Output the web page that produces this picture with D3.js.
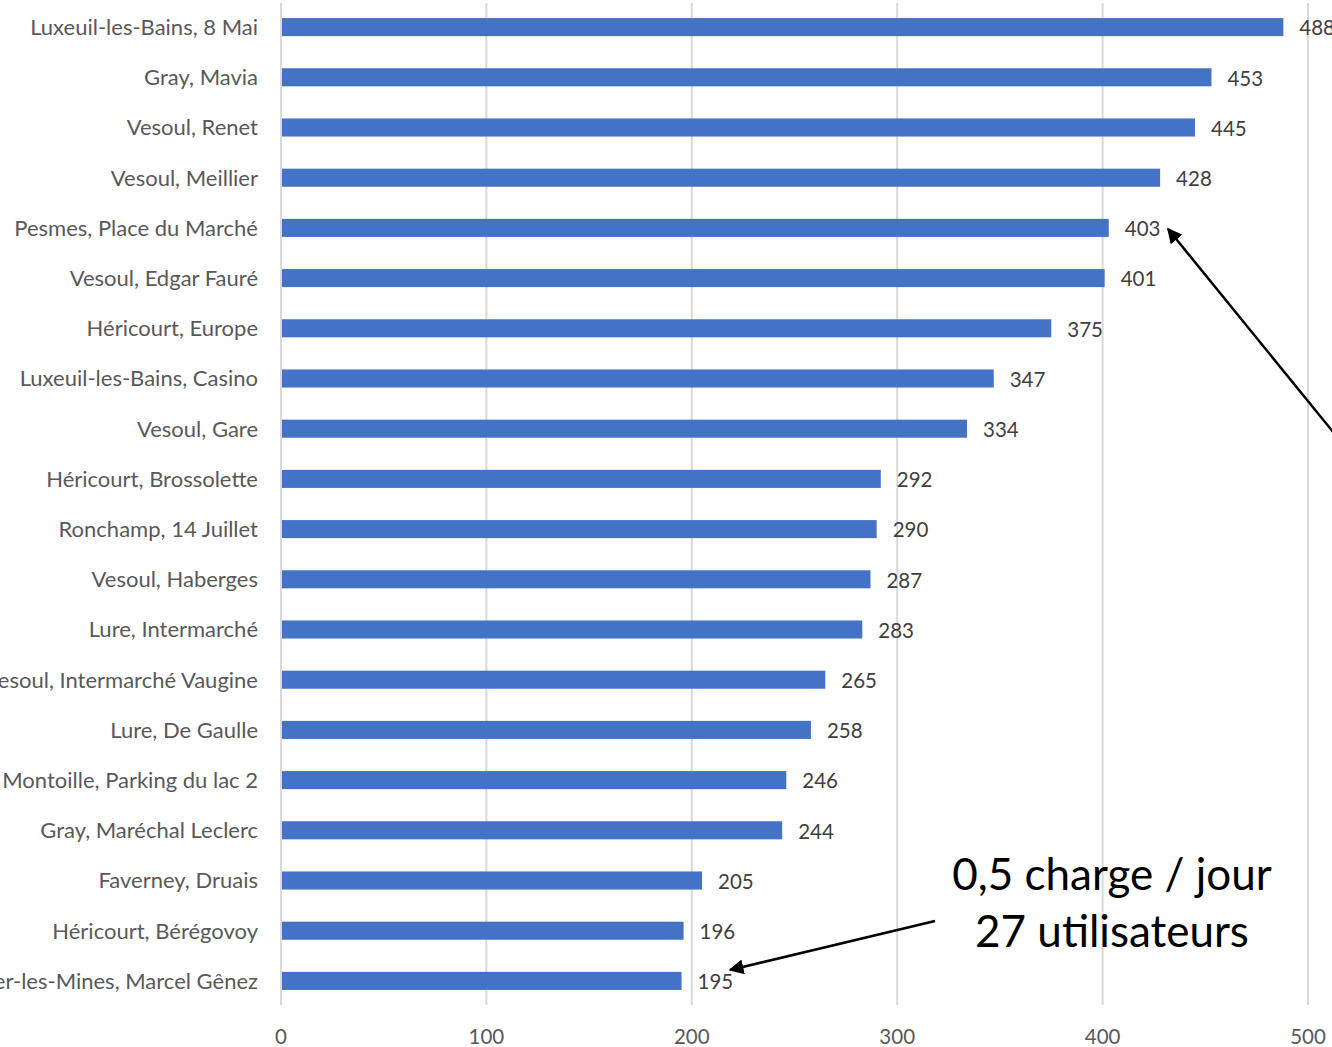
<!DOCTYPE html>
<html><head><meta charset="utf-8">
<script src="https://cdn.jsdelivr.net/npm/d3@7"></script>
<style>body{margin:0;background:#fff;overflow:hidden}svg{display:block}</style>
</head><body>
<svg id="c" width="1332" height="1047"></svg>
<script>
const categories = ["Luxeuil-les-Bains, 8 Mai","Gray, Mavia","Vesoul, Renet","Vesoul, Meillier","Pesmes, Place du Marché","Vesoul, Edgar Fauré","Héricourt, Europe","Luxeuil-les-Bains, Casino","Vesoul, Gare","Héricourt, Brossolette","Ronchamp, 14 Juillet","Vesoul, Haberges","Lure, Intermarché","Vesoul, Intermarché Vaugine","Lure, De Gaulle","Montoille, Parking du lac 2","Gray, Maréchal Leclerc","Faverney, Druais","Héricourt, Bérégovoy","Plancher-les-Mines, Marcel Gênez"];
const values = [488,453,445,428,403,401,375,347,334,292,290,287,283,265,258,246,244,205,196,195];
const ticks = [0,100,200,300,400,500];
const annotationLines = ["0,5 charge / jour","27 utilisateurs"];

const svg = d3.select("#c");
const font = "Lato, 'Open Sans', sans-serif";
const x = d3.scaleLinear().domain([0,500]).range([281,1308]);
const y = d3.scaleBand().domain(categories).range([2,1006]).paddingInner(0.64).paddingOuter(0.32);

// gridlines
svg.append("g").selectAll("line").data(ticks).join("line")
  .attr("x1",d=>x(d)).attr("x2",d=>x(d)).attr("y1",3).attr("y2",1005)
  .attr("stroke","#d9d9d9").attr("stroke-width",2);

// bars
svg.append("g").selectAll("rect").data(values).join("rect")
  .attr("x",x(0)+1).attr("y",(d,i)=>y(categories[i]))
  .attr("width",d=>x(d)-x(0)-1).attr("height",y.bandwidth())
  .attr("fill","#4472C4");

// value labels
svg.append("g").selectAll("text").data(values).join("text")
  .attr("x",d=>x(d)+16).attr("y",(d,i)=>y(categories[i])+y.bandwidth()/2)
  .attr("dy","0.4em").text(d=>d)
  .attr("font-family",font).attr("font-size",20.5).attr("fill","#404040");

// category labels
svg.append("g").selectAll("text").data(categories).join("text")
  .attr("x",258).attr("y",d=>y(d)+y.bandwidth()/2).attr("dy","0.36em")
  .attr("text-anchor","end").text(d=>d)
  .attr("font-family",font).attr("font-size",22).attr("fill","#595959");

// x axis tick labels
svg.append("g").selectAll("text").data(ticks).join("text")
  .attr("x",d=>x(d)).attr("y",1044).attr("text-anchor","middle").text(d=>d)
  .attr("font-family",font).attr("font-size",20.5).attr("fill","#595959");

// arrows
const defs = svg.append("defs");
defs.append("marker").attr("id","ah").attr("viewBox","0 0 10 10").attr("refX",9).attr("refY",5)
  .attr("markerWidth",6).attr("markerHeight",6).attr("orient","auto")
  .append("path").attr("d","M0,0 L10,5 L0,10 z").attr("fill","#000");
svg.append("line").attr("x1",1338).attr("y1",438).attr("x2",1168).attr("y2",229)
  .attr("stroke","#000").attr("stroke-width",2.5).attr("marker-end","url(#ah)");
svg.append("line").attr("x1",935).attr("y1",921).attr("x2",730).attr("y2",970)
  .attr("stroke","#000").attr("stroke-width",2.5).attr("marker-end","url(#ah)");

// annotation
svg.append("g").selectAll("text").data(annotationLines).join("text")
  .attr("x",1112).attr("y",(d,i)=>890+i*57).attr("text-anchor","middle").text(d=>d)
  .attr("font-family",font).attr("font-size",44).attr("fill","#000");
</script>
</body></html>
